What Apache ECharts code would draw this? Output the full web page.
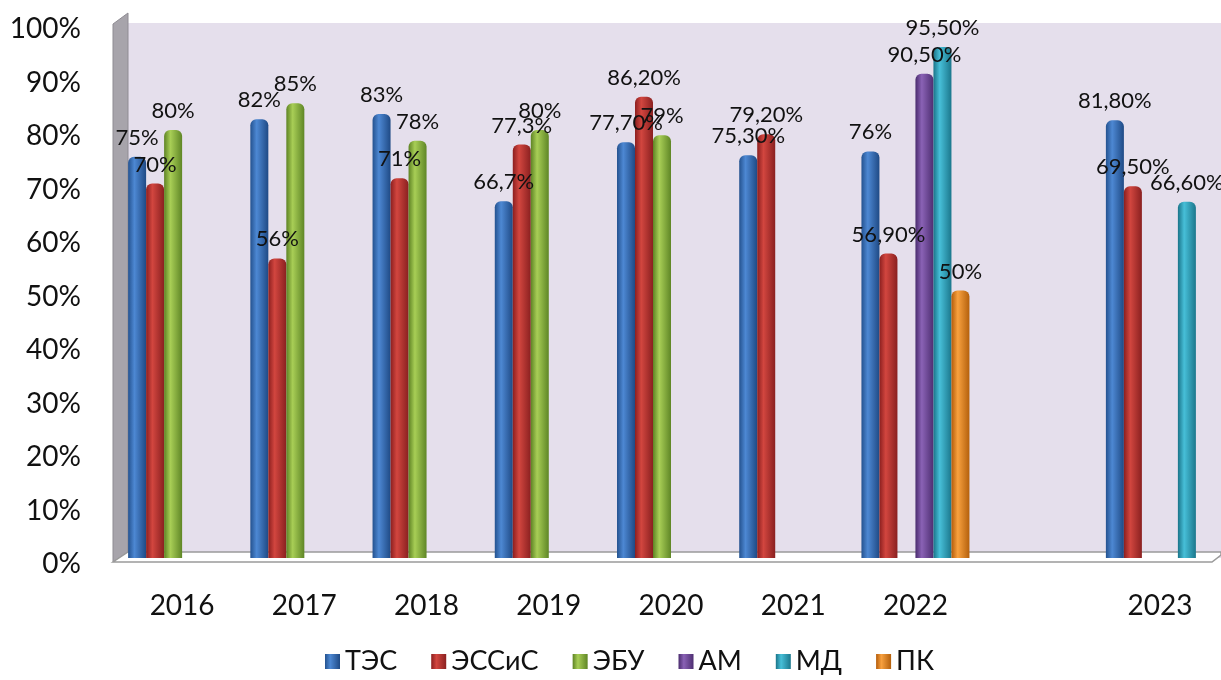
<!DOCTYPE html>
<html>
<head>
<meta charset="utf-8">
<script src="https://cdn.jsdelivr.net/npm/echarts@6/dist/echarts.min.js"></script>
<style>
  html, body { margin: 0; padding: 0; background: #fff; }
  #chart { width: 1221px; height: 680px; }
</style>
</head>
<body>
<div id="chart"></div>
<script>
// years; empty slot between 2022 and 2023 as in the original
const categories = ['2016', '2017', '2018', '2019', '2020', '2021', '2022', '', '2023'];

const tes    = [75, 82, 83, 66.7, 77.7, 75.3, 76, null, 81.8];
const esses  = [70, 56, 71, 77.3, 86.2, 79.2, 56.9, null, 69.5];
const ebu    = [80, 85, 78, 80, 79, null, null, null, null];
const am     = [null, null, null, null, null, null, 90.5, null, null];
const md     = [null, null, null, null, null, null, 95.5, null, 66.6];
const pk     = [null, null, null, null, null, null, 50, null, null];

// label texts as written on the original
const tesLabels   = ['75%', '82%', '83%', '66,7%', '77,70%', '75,30%', '76%', '', '81,80%'];
const essesLabels = ['70%', '56%', '71%', '77,3%', '86,20%', '79,20%', '56,90%', '', '69,50%'];
const ebuLabels   = ['80%', '85%', '78%', '80%', '79%', '', '', '', ''];
const amLabels    = ['', '', '', '', '', '', '90,50%', '', ''];
const mdLabels    = ['', '', '', '', '', '', '95,50%', '', '66,60%'];
const pkLabels    = ['', '', '', '', '', '', '50%', '', ''];

const yTicks = [0, 10, 20, 30, 40, 50, 60, 70, 80, 90, 100];

const chart = echarts.init(document.getElementById('chart'));

// cylinder look: dark edge, highlight, dark edge
function cyl(dark, light, dark2) {
  return new echarts.graphic.LinearGradient(0, 0, 1, 0, [
    { offset: 0, color: dark },
    { offset: 0.35, color: light },
    { offset: 1, color: dark2 }
  ]);
}

const palette = {
  'ТЭС':   cyl('#24528f', '#4d88d3', '#1f4a85'),
  'ЭССиС': cyl('#8c1f1f', '#d2463f', '#8a2020'),
  'ЭБУ':   cyl('#5e8324', '#a8ce56', '#5f8626'),
  'АМ':    cyl('#4a2c6e', '#8a62b5', '#4e2f72'),
  'МД':    cyl('#1a7489', '#47bfd8', '#1b778c'),
  'ПК':    cyl('#b45c0a', '#f8a13f', '#b4600c')
};

function makeSeries(name, values, labels) {
  return {
    name: name,
    type: 'bar',
    data: values,
    barWidth: 18,
    barGap: '0%',
    itemStyle: {
      color: palette[name],
      borderRadius: [6, 6, 0, 0]
    },
    label: {
      show: true,
      position: 'top',
      distance: 8,
      fontFamily: 'Lato',
      fontSize: 22,
      color: '#111',
      formatter: p => labels[p.dataIndex]
    }
  };
}

const option = {
  animation: false,
  backgroundColor: '#fff',
  graphic: [
    // side wall and floor of the 3D box (decoration only)
    {
      type: 'polygon', z: 0,
      shape: { points: [[113, 24], [128, 13], [128, 552], [113, 562]] },
      style: { fill: '#a7a4ab', stroke: '#8f8c93' }
    },
    {
      type: 'polygon', z: 0,
      shape: { points: [[113, 562], [128, 552], [1221, 552], [1221, 555], [1212, 562]] },
      style: { fill: '#ffffff', stroke: '#9a9a9a', lineWidth: 1.5 }
    }
  ],
  grid: {
    left: 121,
    right: -2,
    top: 23,
    bottom: 122,
    show: true,
    backgroundColor: '#e5dfec',
    borderWidth: 0,
    z: -1
  },
  legend: {
    bottom: 0,
    left: 320,
    itemWidth: 15,
    itemHeight: 15,
    itemGap: 34,
    icon: 'rect',
    textStyle: { fontFamily: 'Lato', fontSize: 27, color: '#111' },
    data: ['ТЭС', 'ЭССиС', 'ЭБУ', 'АМ', 'МД', 'ПК']
  },
  xAxis: {
    type: 'category',
    data: categories,
    axisLine: { show: false },
    axisTick: { show: false },
    axisLabel: {
      margin: 34,
      fontFamily: 'Lato',
      fontSize: 28,
      color: '#111'
    }
  },
  yAxis: {
    type: 'value',
    min: 0,
    max: 100,
    interval: 10,
    axisLine: { show: false },
    axisTick: { show: false },
    splitLine: { show: false },
    axisLabel: {
      margin: 40,
      fontFamily: 'Lato',
      fontSize: 28,
      color: '#111',
      verticalAlign: 'top',
      lineHeight: 12,
      formatter: v => (yTicks.indexOf(v) >= 0 ? v + '%' : '')
    }
  },
  series: [
    makeSeries('ТЭС', tes, tesLabels),
    makeSeries('ЭССиС', esses, essesLabels),
    makeSeries('ЭБУ', ebu, ebuLabels),
    makeSeries('АМ', am, amLabels),
    makeSeries('МД', md, mdLabels),
    makeSeries('ПК', pk, pkLabels)
  ]
};

chart.setOption(option);
</script>
</body>
</html>
